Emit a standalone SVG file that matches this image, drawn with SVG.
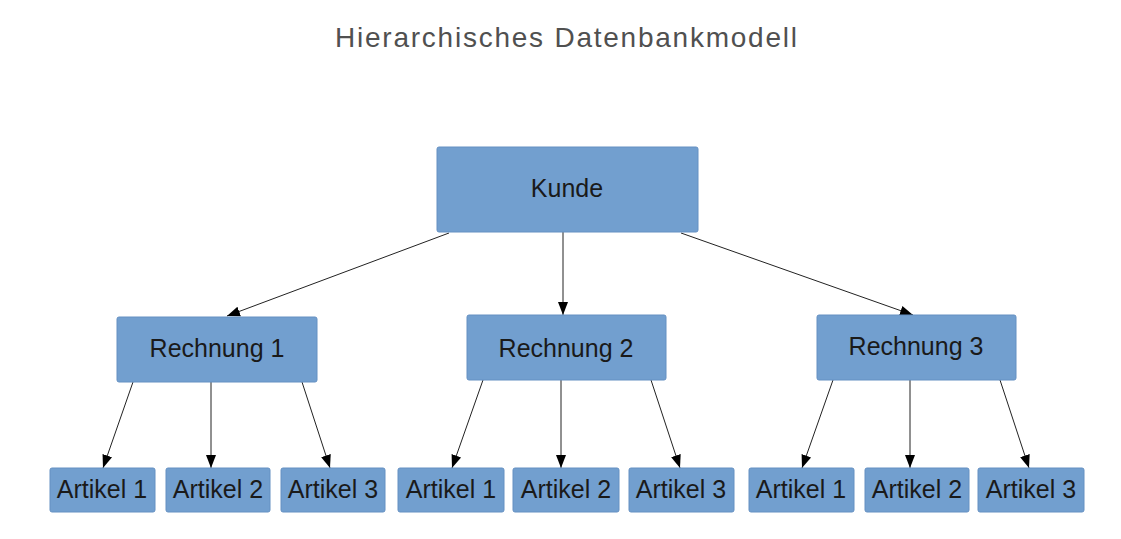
<svg xmlns="http://www.w3.org/2000/svg" width="1121" height="539" viewBox="0 0 1121 539">
<style>
.box{fill:#729fcf;stroke:#6590c2;stroke-width:1}
.lbl{font-family:"Liberation Sans",Arial,sans-serif;font-size:25px;fill:#1a1a1a;text-anchor:middle}
.title{font-family:"Liberation Sans",Arial,sans-serif;font-size:28px;fill:#505050;text-anchor:middle}
.edge{stroke:#222;stroke-width:1;fill:none;marker-end:url(#arr)}
</style>
<defs>
<marker id="arr" markerUnits="userSpaceOnUse" markerWidth="14" markerHeight="12" viewBox="0 0 14 12" refX="13" refY="6" orient="auto">
<path d="M0,1 L13,6 L0,11 Z" fill="#000"/>
</marker>
</defs>
<rect width="1121" height="539" fill="#fff"/>
<text class="title" x="566" y="47" textLength="462" lengthAdjust="spacing">Hierarchisches Datenbankmodell</text>
<g id="connectors">
<line class="edge" x1="449" y1="233" x2="227" y2="316"/>
<line class="edge" x1="563" y1="232" x2="563" y2="315"/>
<line class="edge" x1="681" y1="233" x2="913" y2="315"/>
<line class="edge" x1="133" y1="382" x2="103" y2="468"/>
<line class="edge" x1="211" y1="382" x2="211" y2="468"/>
<line class="edge" x1="302" y1="382" x2="330" y2="468"/>
<line class="edge" x1="483" y1="380" x2="452" y2="468"/>
<line class="edge" x1="561" y1="380" x2="561" y2="468"/>
<line class="edge" x1="651" y1="380" x2="680" y2="468"/>
<line class="edge" x1="833" y1="380" x2="802" y2="468"/>
<line class="edge" x1="910" y1="380" x2="910" y2="468"/>
<line class="edge" x1="1000" y1="380" x2="1029" y2="468"/>
</g>
<g id="kunde"><rect class="box" x="437" y="147" width="261" height="85" rx="2"/><text class="lbl" x="567" y="197">Kunde</text></g>
<g id="rechnung1"><rect class="box" x="117" y="317" width="200" height="65" rx="2"/><text class="lbl" x="217" y="357">Rechnung 1</text></g>
<g id="rechnung2"><rect class="box" x="467" y="315" width="199" height="65" rx="2"/><text class="lbl" x="566" y="357">Rechnung 2</text></g>
<g id="rechnung3"><rect class="box" x="817" y="315" width="199" height="65" rx="2"/><text class="lbl" x="916" y="355">Rechnung 3</text></g>
<g id="r1a1"><rect class="box" x="50" y="468" width="105" height="44" rx="2"/><text class="lbl" x="102" y="498">Artikel 1</text></g>
<g id="r1a2"><rect class="box" x="166" y="468" width="104" height="44" rx="2"/><text class="lbl" x="218" y="498">Artikel 2</text></g>
<g id="r1a3"><rect class="box" x="281" y="468" width="104" height="44" rx="2"/><text class="lbl" x="333" y="498">Artikel 3</text></g>
<g id="r2a1"><rect class="box" x="398" y="468" width="106" height="44" rx="2"/><text class="lbl" x="451" y="498">Artikel 1</text></g>
<g id="r2a2"><rect class="box" x="513" y="468" width="106" height="44" rx="2"/><text class="lbl" x="566" y="498">Artikel 2</text></g>
<g id="r2a3"><rect class="box" x="629" y="468" width="105" height="44" rx="2"/><text class="lbl" x="681" y="498">Artikel 3</text></g>
<g id="r3a1"><rect class="box" x="749" y="468" width="105" height="44" rx="2"/><text class="lbl" x="801" y="498">Artikel 1</text></g>
<g id="r3a2"><rect class="box" x="865" y="468" width="104" height="44" rx="2"/><text class="lbl" x="917" y="498">Artikel 2</text></g>
<g id="r3a3"><rect class="box" x="978" y="468" width="106" height="44" rx="2"/><text class="lbl" x="1031" y="498">Artikel 3</text></g>
</svg>
